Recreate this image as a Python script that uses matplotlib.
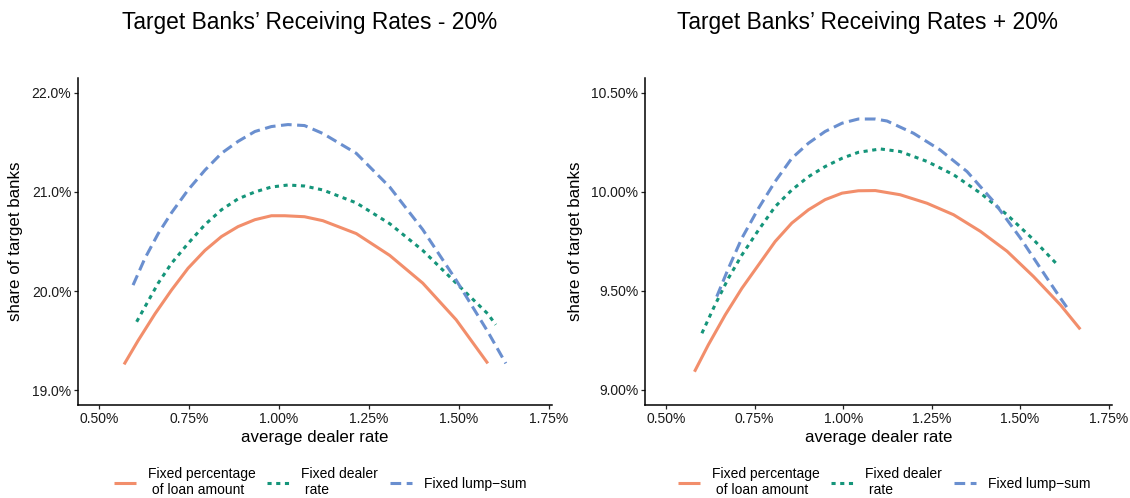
import matplotlib.pyplot as plt
from matplotlib.ticker import FuncFormatter

plt.rcParams['font.family'] = ['Liberation Sans', 'DejaVu Sans']

# average dealer rate (%) vs share of target banks (%), receiving rates -20%
low_fp_x = [0.569, 0.608, 0.655, 0.701, 0.747, 0.794, 0.840, 0.886, 0.933, 0.979, 1.016, 1.071,
            1.122, 1.215, 1.308, 1.400, 1.493, 1.581]
low_fp_y = [19.26, 19.50, 19.77, 20.01, 20.23, 20.41, 20.55, 20.65, 20.72, 20.76, 20.76, 20.75,
            20.71, 20.58, 20.36, 20.08, 19.71, 19.27]
low_fd_x = [0.604, 0.627, 0.664, 0.701, 0.747, 0.794, 0.840, 0.886, 0.933, 0.979, 1.025, 1.071,
            1.122, 1.215, 1.308, 1.400, 1.493, 1.581, 1.603]
low_fd_y = [19.69, 19.84, 20.08, 20.28, 20.48, 20.67, 20.82, 20.93, 21.00, 21.05, 21.07, 21.06,
            21.02, 20.89, 20.68, 20.41, 20.08, 19.77, 19.66]
low_ls_x = [0.594, 0.627, 0.664, 0.701, 0.747, 0.794, 0.840, 0.886, 0.933, 0.979, 1.025, 1.071,
            1.122, 1.215, 1.308, 1.400, 1.493, 1.581, 1.631]
low_ls_y = [20.06, 20.33, 20.58, 20.79, 21.02, 21.22, 21.39, 21.51, 21.61, 21.66, 21.68, 21.67,
            21.59, 21.39, 21.05, 20.62, 20.11, 19.59, 19.27]

# receiving rates +20%
high_fp_x = [0.580, 0.619, 0.667, 0.714, 0.761, 0.808, 0.855, 0.902, 0.949, 0.997, 1.043, 1.091,
             1.161, 1.237, 1.312, 1.388, 1.463, 1.538, 1.614, 1.670]
high_fp_y = [9.092, 9.227, 9.379, 9.513, 9.631, 9.749, 9.842, 9.909, 9.960, 9.993, 10.005, 10.006,
             9.985, 9.942, 9.884, 9.800, 9.700, 9.572, 9.429, 9.306]
high_fd_x = [0.601, 0.638, 0.676, 0.714, 0.761, 0.808, 0.855, 0.902, 0.949, 0.997, 1.043, 1.105,
             1.161, 1.237, 1.312, 1.388, 1.463, 1.538, 1.601]
high_fd_y = [9.286, 9.429, 9.564, 9.681, 9.807, 9.925, 10.009, 10.076, 10.127, 10.169, 10.199, 10.216,
             10.203, 10.153, 10.086, 9.993, 9.884, 9.758, 9.640]
high_ls_x = [0.643, 0.676, 0.714, 0.761, 0.808, 0.855, 0.902, 0.949, 0.997, 1.043, 1.091, 1.124,
             1.199, 1.274, 1.350, 1.425, 1.501, 1.576, 1.614, 1.637]
high_ls_y = [9.471, 9.614, 9.766, 9.917, 10.052, 10.169, 10.245, 10.304, 10.346, 10.367, 10.367, 10.357,
             10.295, 10.211, 10.102, 9.951, 9.766, 9.564, 9.463, 9.404]

labels = ['Fixed percentage\n of loan amount', 'Fixed dealer\n rate', 'Fixed lump\u2212sum']
colors = ['#F28E6B', '#15957A', '#6A8FCF']
x_ticks = [0.50, 0.75, 1.00, 1.25, 1.50, 1.75]

panels = [
    dict(title='Target Banks\u2019 Receiving Rates - 20%',
         series=[(low_fp_x, low_fp_y), (low_fd_x, low_fd_y), (low_ls_x, low_ls_y)],
         yticks=[19.0, 20.0, 21.0, 22.0], ylim=(18.85, 22.15), fmt='{:.1f}%',
         rect=[78.2 / 1130, 0.1867, 473.6 / 1130, 0.6567], tx=310, lx=320),
    dict(title='Target Banks\u2019 Receiving Rates + 20%',
         series=[(high_fp_x, high_fp_y), (high_fd_x, high_fd_y), (high_ls_x, high_ls_y)],
         yticks=[9.0, 9.5, 10.0, 10.5], ylim=(8.924, 10.574), fmt='{:.2f}%',
         rect=[645.4 / 1130, 0.1867, 466.4 / 1130, 0.6567], tx=867, lx=884),
]

fig = plt.figure(figsize=(11.3, 4.98), dpi=100)

for p in panels:
    ax = fig.add_axes(p['rect'])
    styles = [dict(ls='-'), dict(dashes=(1.35, 1.5)), dict(dashes=(3.5, 1.8))]
    handles = []
    for (x, y), c, st, lab in zip(p['series'], colors, styles, labels):
        h, = ax.plot(x, y, color=c, lw=2.2, label=lab, solid_capstyle='butt',
                     dash_capstyle='butt', solid_joinstyle='round', **st)
        handles.append(h)
    ax.set_xlim(0.4414, 1.759)
    ax.set_ylim(*p['ylim'])
    ax.set_xticks(x_ticks)
    ax.set_yticks(p['yticks'])
    ax.xaxis.set_major_formatter(FuncFormatter(lambda v, _: '{:.2f}%'.format(v)))
    fmt = p['fmt']
    ax.yaxis.set_major_formatter(FuncFormatter(lambda v, _, f=fmt: f.format(v)))
    for s in ['top', 'right']:
        ax.spines[s].set_visible(False)
    for s in ['left', 'bottom']:
        ax.spines[s].set_linewidth(1.1)
    ax.tick_params(labelsize=10, length=3, width=0.9, pad=2,
                   colors='#222222', labelcolor='#1a1a1a')
    ax.set_xlabel('average dealer rate', fontsize=12.2, labelpad=3)
    ax.set_ylabel('share of target banks', fontsize=12.2, labelpad=6)
    fig.text(p['tx'] / 1130, 1 - 23 / 498, p['title'], fontsize=16.4, ha='center', va='center')
    fig.legend(handles=handles, loc='center', ncol=3, frameon=False, fontsize=10,
               bbox_to_anchor=(p['lx'] / 1130, 1 - 482 / 498),
               handlelength=1.6, columnspacing=0.85, handletextpad=0.85,
               borderpad=0.1)

fig.savefig('out.png', dpi=100)
